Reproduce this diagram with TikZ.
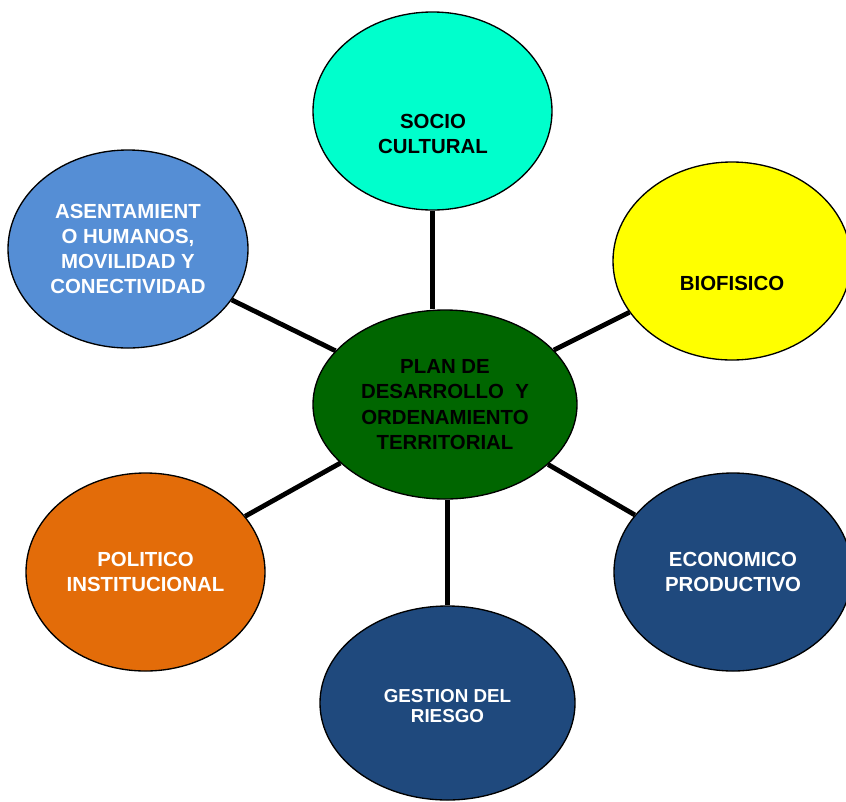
\documentclass[tikz,border=0pt]{standalone}
\usepackage{fontspec}
\setmainfont{Liberation Sans}
\usetikzlibrary{shapes.geometric}
\definecolor{socioaqua}{HTML}{00FFCC}
\definecolor{bioyellow}{HTML}{FFFF00}
\definecolor{asentblue}{HTML}{558ED5}
\definecolor{plangreen}{HTML}{006600}
\definecolor{politorange}{HTML}{E36C09}
\definecolor{ejenavy}{HTML}{1F497D}

\begin{document}
\begin{tikzpicture}[x=0.75pt, y=-0.75pt,
                    every node/.style={font=\bfseries\fontsize{15.3}{18.9}\selectfont, align=center},
                    eje/.style={ellipse, draw=black, line width=1pt, inner sep=0pt},
                    enlace/.style={black, line width=3.6pt}]

  %% marco de la figura
  \useasboundingbox (0,0) rectangle (846,801);
  \clip (0,0) rectangle (846,801);

  %% ejes del plan
  \node[eje, fill=plangreen, minimum width=198pt, minimum height=141.75pt] (plan) at (445,404.5)
    {PLAN DE\\DESARROLLO\ \ Y\\ORDENAMIENTO\\TERRITORIAL};
  \node[eje, fill=socioaqua, minimum width=179.25pt, minimum height=148.5pt] (socio) at (432.5,111) {};
  \node (sociotxt) at (433,134) {SOCIO\\CULTURAL};
  \node[eje, fill=bioyellow, minimum width=178.5pt, minimum height=148.5pt] (bio) at (732,261) {};
  \node (biotxt) at (732,283) {BIOFISICO};
  \node[eje, fill=asentblue, text=white, minimum width=180pt, minimum height=148.5pt] (asent) at (128,249)
    {ASENTAMIENT\\O HUMANOS,\\MOVILIDAD Y\\CONECTIVIDAD};
  \node[eje, fill=politorange, text=white, minimum width=179.25pt, minimum height=148.5pt] (polit) at (145.5,572)
    {POLITICO\\INSTITUCIONAL};
  \node[eje, fill=ejenavy, text=white, minimum width=178.5pt, minimum height=148.5pt] (econ) at (733,572)
    {ECONOMICO\\PRODUCTIVO};
  \node[eje, fill=ejenavy, minimum width=191.25pt, minimum height=145.5pt] (riesgo) at (447.5,703) {};
  \node[text=white, font=\bfseries\fontsize{14.1}{15}\selectfont] (riesgotxt) at (447.5,706)
    {GESTION DEL\\RIESGO};

  %% enlaces al centro
  \draw[enlace] (socio.south) -- (socio.south |- plan.north);
  \draw[enlace] (riesgo.north) -- (riesgo.north |- plan.south);
  \draw[enlace] (plan) -- (asent);
  \draw[enlace] (plan) -- (bio);
  \draw[enlace] (plan) -- (polit);
  \draw[enlace] (plan) -- (econ);

\end{tikzpicture}
\end{document}
